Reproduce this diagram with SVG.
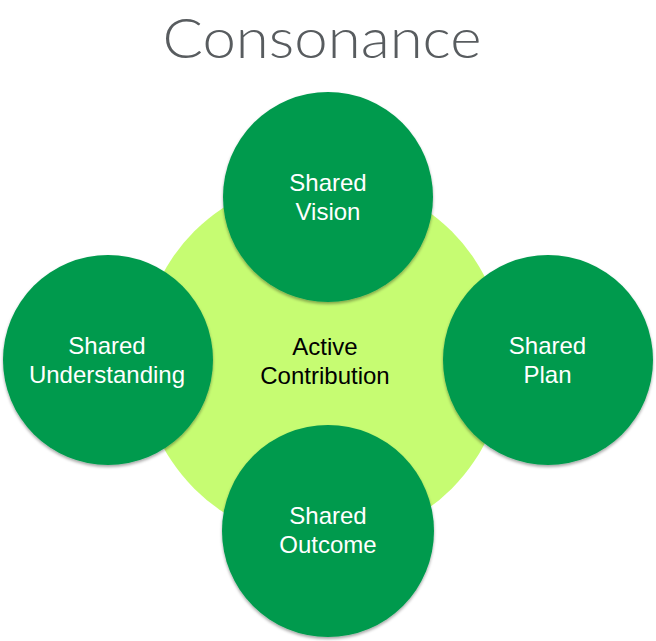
<svg xmlns="http://www.w3.org/2000/svg" width="656" height="641" viewBox="0 0 656 641">
<style>
.node{fill:#009a4e;filter:url(#sh)}
.lbl{font-family:"Liberation Sans",Arial,sans-serif;font-size:24px;fill:#ffffff;text-anchor:middle}
.center{font-family:"Liberation Sans",Arial,sans-serif;font-size:24px;fill:#000000;text-anchor:middle}
.title{font-family:Lato,"Open Sans",sans-serif;font-weight:300;font-size:56px;fill:#585c5f;text-anchor:middle}
</style>
<defs>
<filter id="sh" x="-10%" y="-10%" width="120%" height="125%">
<feDropShadow dx="0" dy="2" stdDeviation="1.5" flood-color="#000" flood-opacity="0.35"/>
</filter>
</defs>
<rect width="656" height="641" fill="#ffffff"/>
<text class="title" x="322" y="58" textLength="319" lengthAdjust="spacingAndGlyphs">Consonance</text>
<g id="active-contribution">
<circle cx="323" cy="360" r="182" fill="#c6fc72"/>
<text class="center" x="325" y="355">Active</text>
<text class="center" x="325" y="384">Contribution</text>
</g>
<g id="connectors"></g>
<g id="shared-vision">
<circle class="node" cx="328" cy="197" r="105"/>
<text class="lbl" x="328" y="191">Shared</text>
<text class="lbl" x="328" y="220">Vision</text>
</g>
<g id="shared-understanding">
<circle class="node" cx="108" cy="360" r="105"/>
<text class="lbl" x="107" y="354">Shared</text>
<text class="lbl" x="107" y="383">Understanding</text>
</g>
<g id="shared-plan">
<circle class="node" cx="548" cy="360" r="105"/>
<text class="lbl" x="547.500" y="354">Shared</text>
<text class="lbl" x="547.500" y="383">Plan</text>
</g>
<g id="shared-outcome">
<circle class="node" cx="328" cy="531" r="106"/>
<text class="lbl" x="328" y="524">Shared</text>
<text class="lbl" x="328" y="553">Outcome</text>
</g>
</svg>
